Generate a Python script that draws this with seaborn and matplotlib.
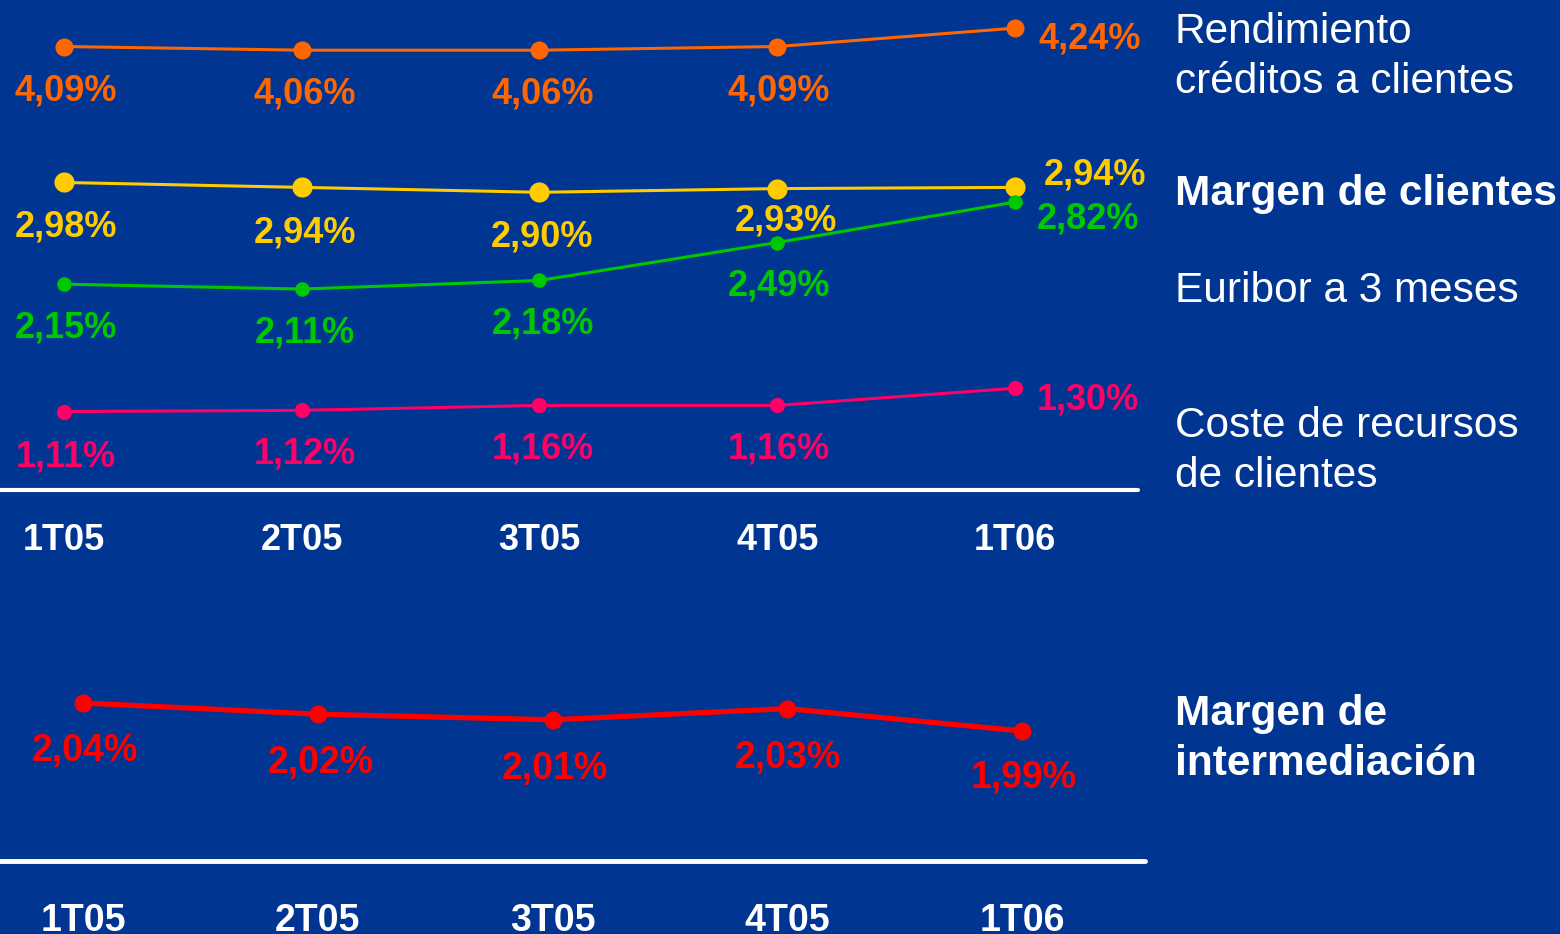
import matplotlib
matplotlib.use("Agg")
import matplotlib.pyplot as plt
import seaborn as sns
import pandas as pd

sns.set_theme(style="white")
plt.rcParams['font.family'] = ['Liberation Sans', 'DejaVu Sans']

# ---- data ----
quarters = ["1T05", "2T05", "3T05", "4T05", "1T06"]
rendimiento = [4.09, 4.06, 4.06, 4.09, 4.24]
margen_clientes = [2.98, 2.94, 2.90, 2.93, 2.94]
euribor = [2.15, 2.11, 2.18, 2.49, 2.82]
coste_recursos = [1.11, 1.12, 1.16, 1.16, 1.30]
margen_intermediacion = [2.04, 2.02, 2.01, 2.03, 1.99]

BG = "#003591"
WHITE = "#FFFFFF"

def fmt(v):
    return f"{v:.2f}%".replace(".", ",")

fig = plt.figure(figsize=(15.6, 9.34), dpi=100, facecolor=BG)
W, H = 1560, 934

ax1 = fig.add_axes([0, 1 - 490 / H, 1138 / W, 490 / H])
ax2 = fig.add_axes([0, 1 - 861 / H, 1145 / W, 261 / H])

px_pt = 72 / 100  # pixel -> points

top_series = [
    (rendimiento, "#FF6600", 13, 2.2,
     [(2, -44), (3, -44), (3, -44), (2, -44), (75, -11)]),
    (margen_clientes, "#FFCC00", 14.5, 2.2,
     [(2, -45), (3, -46), (3, -45), (9, -32), (80, 12)]),
    (euribor, "#00C800", 10.5, 2.2,
     [(2, -44), (3, -44), (3, -44), (2, -43), (73, -17)]),
    (coste_recursos, "#FF0066", 11, 2.2,
     [(2, -45), (3, -44), (3, -44), (2, -44), (73, -12)]),
]

xs = list(range(len(quarters)))
for vals, col, ms, lw, offs in top_series:
    df = pd.DataFrame({"x": xs, "v": vals})
    sns.lineplot(data=df, x="x", y="v", ax=ax1, color=col, linewidth=lw,
                 marker="o", markersize=ms, markeredgewidth=0, clip_on=False)
    for x, v, (dx, dy) in zip(xs, vals, offs):
        ax1.annotate(fmt(v), (x, v), xytext=(dx * px_pt, dy * px_pt),
                     textcoords="offset points", ha="center", va="center",
                     color=col, fontsize=26, fontweight="bold", annotation_clip=False)

red_offs = [(2, -48), (3, -49), (2, -49), (1, -49), (2, -47)]
df2 = pd.DataFrame({"x": xs, "v": margen_intermediacion})
sns.lineplot(data=df2, x="x", y="v", ax=ax2, color="#FF0000", linewidth=3.8,
             marker="o", markersize=13, markeredgewidth=0, clip_on=False)
for x, v, (dx, dy) in zip(xs, margen_intermediacion, red_offs):
    ax2.annotate(fmt(v), (x, v), xytext=(dx * px_pt, dy * px_pt),
                 textcoords="offset points", ha="center", va="center",
                 color="#FF0000", fontsize=27, fontweight="bold", annotation_clip=False)

# scales (schematic placement)
ax1.set_xlim(-64 / 237.75, (1138 - 64) / 237.75)
ax1.set_ylim(2.15 - (490 - 285) / 122, 2.15 + 283 / 122)
ax2.set_xlim(-83 / 234.75, (1145 - 83) / 234.75)
ax2.set_ylim(2.04 - (861 - 703) / 560, 2.04 + (703 - 600) / 560)

for ax, pad in ((ax1, 24), (ax2, 30)):
    ax.set_facecolor("none")
    for s in ("top", "left", "right"):
        ax.spines[s].set_visible(False)
    ax.spines["bottom"].set_color(WHITE)
    ax.spines["bottom"].set_capstyle("round")
    ax.set_xticks(xs)
    ax.set_xticklabels(quarters)
    ax.set_yticks([])
    ax.set_xlabel("")
    ax.set_ylabel("")
    ax.tick_params(axis="x", length=0, pad=pad, labelsize=26, labelcolor=WHITE)
    for t in ax.get_xticklabels():
        t.set_fontweight("bold")
ax1.spines["bottom"].set_linewidth(3)
ax2.spines["bottom"].set_linewidth(3.5)
for t in ax2.get_xticklabels():
    t.set_fontsize(27)

# right-side series names
labels = [
    ("Rendimiento", 43, "normal"),
    ("créditos a clientes", 93, "normal"),
    ("Margen de clientes", 205, "bold"),
    ("Euribor a 3 meses", 302, "normal"),
    ("Coste de recursos", 437, "normal"),
    ("de clientes", 487, "normal"),
    ("Margen de", 725, "bold"),
    ("intermediación", 775, "bold"),
]
for txt, y, wt in labels:
    fig.text(1175 / W, 1 - y / H, txt, ha="left", va="baseline", color=WHITE,
             fontsize=30.5, fontweight=wt)

fig.savefig("out.png", dpi=100, facecolor=BG)
